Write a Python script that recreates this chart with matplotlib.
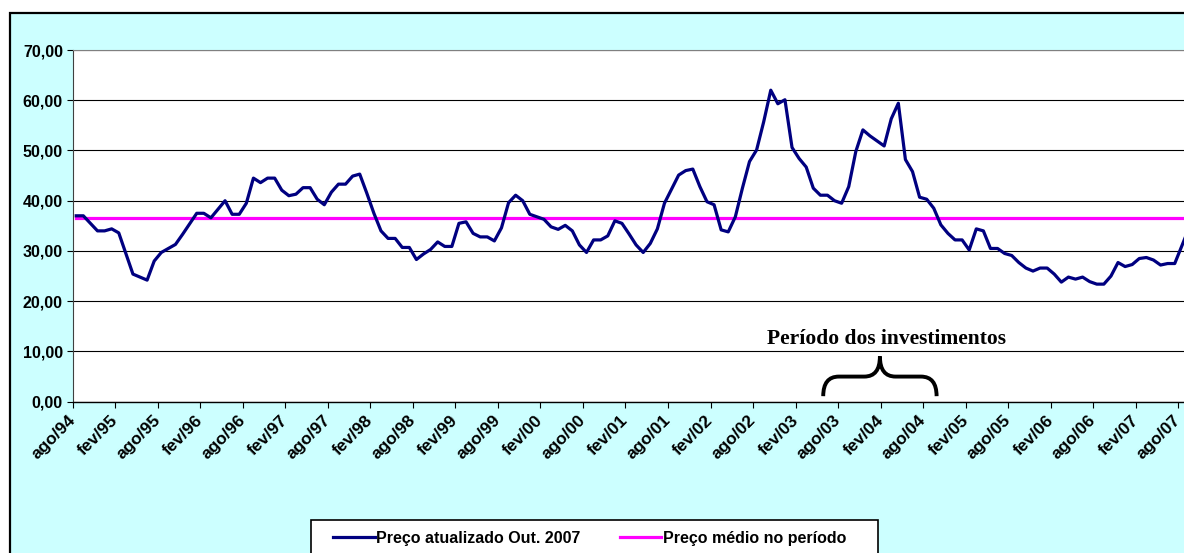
import matplotlib.pyplot as plt
from matplotlib.patches import Rectangle, PathPatch
from matplotlib.path import Path
from matplotlib.transforms import ScaledTranslation
import numpy as np

# Preço atualizado (Out. 2007), mensal a partir de ago/94
preco = [37.0, 37.0, 35.5, 34.0, 34.0, 34.4, 33.6, 29.5, 25.4, 24.8,
         24.2, 28.0, 29.7, 30.5, 31.3, 33.3, 35.4, 37.5, 37.5, 36.6,
         38.3, 40.0, 37.3, 37.3, 39.5, 44.5, 43.6, 44.5, 44.5, 42.1,
         41.0, 41.3, 42.6, 42.6, 40.3, 39.2, 41.7, 43.3, 43.3, 44.9,
         45.3, 41.5, 37.5, 34.0, 32.5, 32.5, 30.7, 30.7, 28.3, 29.4,
         30.3, 31.8, 30.9, 30.9, 35.5, 35.8, 33.5, 32.8, 32.8, 32.0,
         34.6, 39.6, 41.1, 40.0, 37.3, 36.8, 36.3, 34.8, 34.3, 35.1,
         34.0, 31.2, 29.7, 32.2, 32.2, 33.0, 36.0, 35.5, 33.4, 31.2,
         29.7, 31.5, 34.4, 39.5, 42.3, 45.1, 46.0, 46.3, 42.8, 39.8,
         39.2, 34.2, 33.8, 36.8, 42.5, 47.8, 50.1, 55.7, 62.0, 59.3,
         60.1, 50.6, 48.4, 46.7, 42.5, 41.1, 41.1, 40.0, 39.5, 42.8,
         49.8, 54.1, 52.9, 51.9, 50.9, 56.3, 59.4, 48.2, 45.8, 40.7,
         40.3, 38.5, 35.2, 33.5, 32.2, 32.2, 30.2, 34.4, 34.0, 30.5,
         30.5, 29.5, 29.1, 27.7, 26.6, 26.0, 26.6, 26.6, 25.4, 23.8,
         24.8, 24.4, 24.8, 23.9, 23.4, 23.4, 25.0, 27.7, 26.9, 27.3,
         28.5, 28.7, 28.2, 27.2, 27.5, 27.5, 31.0, 34.5]
preco_medio = 36.5

rotulos = ['ago/94', 'fev/95', 'ago/95', 'fev/96', 'ago/96', 'fev/97', 'ago/97',
           'fev/98', 'ago/98', 'fev/99', 'ago/99', 'fev/00', 'ago/00', 'fev/01',
           'ago/01', 'fev/02', 'ago/02', 'fev/03', 'ago/03', 'fev/04', 'ago/04',
           'fev/05', 'ago/05', 'fev/06', 'ago/06', 'fev/07', 'ago/07']

# período dos investimentos (índices de mês)
inv_inicio = 105.4
inv_fim = 121.4

x = np.arange(len(preco))
media = np.full(len(preco), preco_medio)

W, H = 1184, 553
fig = plt.figure(figsize=(W / 100, H / 100), dpi=100)
fig.patches.append(Rectangle((10 / W, -0.05), 1.1, 1 - 12.7 / H + 0.05,
                             transform=fig.transFigure, facecolor='#CCFFFF',
                             edgecolor='black', linewidth=1.6, zorder=-5))

ax = fig.add_axes([72.7 / W, (H - 401.7) / H, 1 - 72.7 / W, 351.7 / H])
ax.set_facecolor('white')

l1, = ax.plot(x, preco, color='#000080', linewidth=2.3, zorder=3,
              label='Preço atualizado Out. 2007')
l2, = ax.plot(x, media, color='#FF00FF', linewidth=2.3, zorder=2,
              label='Preço médio no período')

ax.set_ylim(0, 70)
ax.set_xlim(-0.5, (W - 76.24) / 7.087)
ax.set_yticks(np.arange(0, 71, 10))
ax.set_yticklabels(['%d,00' % v for v in range(0, 71, 10)],
                   fontsize=11.5, fontweight='bold', family='Liberation Sans')
ax.yaxis.grid(True, color='black', linewidth=0.8)
ax.set_axisbelow(True)

ticks = np.arange(len(rotulos)) * 6 - 0.5
ax.set_xticks(ticks)
ax.set_xticklabels(rotulos, rotation=45, ha='right', rotation_mode='anchor',
                   fontsize=12.5, fontweight='bold', family='Liberation Sans')
ax.tick_params(axis='x', length=4, pad=4, color='black')
ax.tick_params(axis='y', length=4, pad=3, color='black')
desloc = ScaledTranslation(-5 / 100, 0, fig.dpi_scale_trans)
for lab in ax.get_xticklabels():
    lab.set_transform(lab.get_transform() + desloc)

ax.spines['right'].set_visible(False)
ax.spines['top'].set_color('#808080')
ax.spines['left'].set_color('#404040')
ax.spines['bottom'].set_color('black')
ax.spines['bottom'].set_linewidth(1.0)

# chave do período dos investimentos
y_end, y_bar, y_tip = 1.1, 5.0, 9.0
xm = (inv_inicio + inv_fim) / 2
r = 2.2
verts = [(inv_inicio, y_end), (inv_inicio, y_bar), (inv_inicio + r, y_bar),
         (xm - r, y_bar), (xm, y_bar), (xm, y_tip),
         (xm, y_bar), (xm + r, y_bar),
         (inv_fim - r, y_bar), (inv_fim, y_bar), (inv_fim, y_end)]
codes = [Path.MOVETO, Path.CURVE3, Path.CURVE3,
         Path.LINETO, Path.CURVE3, Path.CURVE3,
         Path.CURVE3, Path.CURVE3,
         Path.LINETO, Path.CURVE3, Path.CURVE3]
ax.add_patch(PathPatch(Path(verts, codes), facecolor='none', edgecolor='black',
                       linewidth=2.8, zorder=4))
ax.text(xm + 1, 12.5, 'Período dos investimentos', ha='center', va='center',
        fontsize=15.5, fontweight='bold', family='Liberation Serif')

# legenda: caixa desenhada à parte
fig.patches.append(Rectangle((311 / W, -0.05), 567 / W, 0.05 + (H - 520) / H,
                             transform=fig.transFigure, facecolor='white',
                             edgecolor='black', linewidth=1.2, zorder=5))
leg = fig.legend(handles=[l1, l2], loc='center left',
                 bbox_to_anchor=(333 / W, 1 - 538 / H), ncol=2,
                 frameon=False,
                 prop={'family': 'Liberation Sans', 'weight': 'bold', 'size': 11.5},
                 handlelength=2.6, handletextpad=0.1, columnspacing=2.45,
                 borderpad=0, borderaxespad=0)
leg.set_zorder(6)

plt.savefig('out.png', dpi=100)
